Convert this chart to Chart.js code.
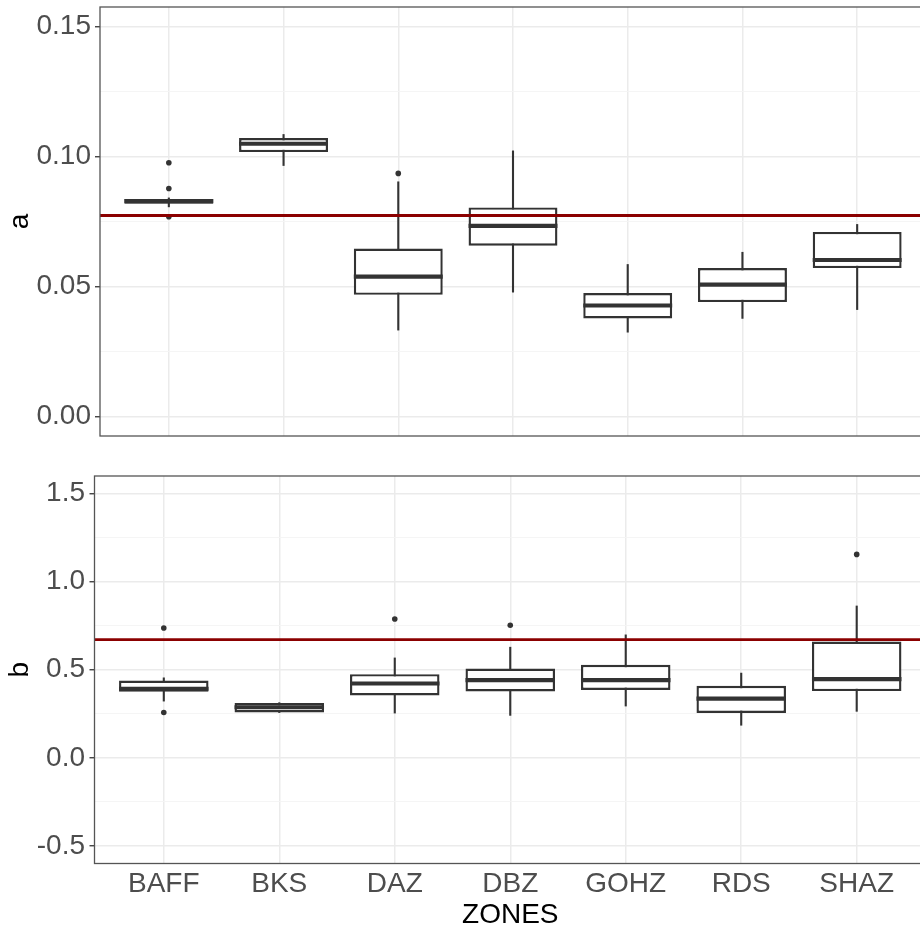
<!DOCTYPE html>
<html><head><meta charset="utf-8">
<script src="https://cdn.jsdelivr.net/npm/chart.js@4.4.1/dist/chart.umd.min.js"></script>
<style>
html,body{margin:0;padding:0;background:#fff;overflow:hidden;width:920px;height:930px;}
#wrapA{position:absolute;left:0;top:0;width:930px;height:450px;}
#wrapB{position:absolute;left:0;top:450px;width:930px;height:480px;}
canvas{display:block;}
</style></head><body>
<div id="wrapA"><canvas id="cA" width="930" height="450" style="width:930px;height:450px"></canvas></div>
<div id="wrapB"><canvas id="cB" width="930" height="480" style="width:930px;height:480px"></canvas></div>
<script>
// ---- data ----
const categories = ['BAFF','BKS','DAZ','DBZ','GOHZ','RDS','SHAZ'];

// panel a
const wminA = [0.0805, 0.0964, 0.0331, 0.0477, 0.0323, 0.0376, 0.0410];
const q1A   = [0.0818, 0.1017, 0.0468, 0.0657, 0.0377, 0.0440, 0.0571];
const medA  = [0.0828, 0.1049, 0.0538, 0.0733, 0.0427, 0.0507, 0.0602];
const q3A   = [0.0837, 0.1071, 0.0646, 0.0804, 0.0475, 0.0571, 0.0710];
const wmaxA = [0.0842, 0.1086, 0.0904, 0.1023, 0.0586, 0.0633, 0.0740];
const outA  = [[0.0976, 0.0877, 0.0768], [], [0.0935], [], [], [], []];
const refA  = 0.0773;
const yTicksA  = [0, 0.05, 0.10, 0.15];
const yLabelsA = ['0.00', '0.05', '0.10', '0.15'];
const yMinorA  = [0.025, 0.075, 0.125];

// panel b
const wminB = [0.320, 0.255, 0.252, 0.239, 0.292, 0.183, 0.262];
const q1B   = [0.375, 0.258, 0.354, 0.377, 0.385, 0.255, 0.379];
const medB  = [0.392, 0.287, 0.422, 0.441, 0.441, 0.336, 0.447];
const q3B   = [0.439, 0.311, 0.475, 0.507, 0.528, 0.409, 0.660];
const wmaxB = [0.456, 0.315, 0.569, 0.630, 0.700, 0.483, 0.864];
const outB  = [[0.737, 0.257], [], [0.788], [0.753], [], [], [1.155]];
const refB  = 0.671;
const yTicksB  = [-0.5, 0, 0.5, 1.0, 1.5];
const yLabelsB = ['-0.5', '0.0', '0.5', '1.0', '1.5'];
const yMinorB  = [-0.25, 0.25, 0.75, 1.25];

const FONT = "'Liberation Sans', Arial, Helvetica, sans-serif";

function makePanel(canvasId, s) {
  const boxes = categories.map((c, i) => ({x: i + 1, y: [s.q1[i], s.q3[i]]}));
  const outl = [];
  s.out.forEach((arr, i) => arr.forEach(v => outl.push({x: i + 1, y: v})));

  const parts = {
    id: 'parts_' + canvasId,
    beforeDatasetsDraw(chart) {
      const ctx = chart.ctx, y = chart.scales.y, meta = chart.getDatasetMeta(0);
      ctx.save();
      ctx.strokeStyle = '#333333'; ctx.lineWidth = 2.1;
      meta.data.forEach((el, i) => {
        ctx.beginPath();
        ctx.moveTo(el.x, y.getPixelForValue(s.wmin[i]));
        ctx.lineTo(el.x, y.getPixelForValue(s.wmax[i]));
        ctx.stroke();
      });
      ctx.restore();
    },
    afterDatasetsDraw(chart) {
      const ctx = chart.ctx, y = chart.scales.y, meta = chart.getDatasetMeta(0);
      const area = chart.chartArea;
      ctx.save();
      ctx.strokeStyle = '#333333'; ctx.lineWidth = 4.2;
      meta.data.forEach((el, i) => {
        const py = y.getPixelForValue(s.med[i]);
        ctx.beginPath();
        ctx.moveTo(el.x - el.width / 2, py);
        ctx.lineTo(el.x + el.width / 2, py);
        ctx.stroke();
      });
      const ry = y.getPixelForValue(s.ref);
      ctx.strokeStyle = '#8B0000'; ctx.lineWidth = 2.8;
      ctx.beginPath(); ctx.moveTo(area.left, ry); ctx.lineTo(area.right, ry); ctx.stroke();
      ctx.restore();
    },
    afterDraw(chart) {
      const ctx = chart.ctx, a = chart.chartArea;
      ctx.save();
      ctx.strokeStyle = '#555555'; ctx.lineWidth = 1.3;
      ctx.strokeRect(a.left, a.top, a.right - a.left, a.bottom - a.top);
      ctx.restore();
    }
  };

  return new Chart(document.getElementById(canvasId), {
    type: 'bar',
    data: {
      datasets: [
        {type: 'bar', data: boxes, backgroundColor: '#FFFFFF', borderColor: '#333333',
         borderWidth: 2.4, borderSkipped: false, barPercentage: 0.775, categoryPercentage: 1, order: 2},
        {type: 'scatter', data: outl, pointRadius: 2.8, pointBackgroundColor: '#333333',
         pointBorderWidth: 0, showLine: false, order: 1}
      ]
    },
    options: {
      responsive: false, animation: false, devicePixelRatio: 1,
      layout: {padding: {top: s.padTop, right: s.padRight, left: 0, bottom: 0}},
      plugins: {legend: {display: false}, tooltip: {enabled: false}},
      scales: {
        x: {
          type: 'linear', min: 0.4, max: 7.6, offset: false,
          afterBuildTicks: sc => { sc.ticks = categories.map((c, i) => ({value: i + 1})); },
          afterFit: sc => { sc.height = s.xHeight; sc.paddingLeft = 0; sc.paddingRight = 0; },
          grid: {color: '#EBEBEB', lineWidth: 1.5, drawTicks: false, offset: false},
          border: {display: false},
          ticks: {display: s.showX, autoSkip: false, maxRotation: 0,
                  callback: v => categories[Math.round(v) - 1] || '',
                  font: {family: FONT, size: 28}, color: '#4D4D4D', padding: s.xPad},
          title: {display: s.showX, text: 'ZONES', color: '#000000',
                  font: {family: FONT, size: 28, lineHeight: 1}, padding: {top: 0, bottom: 0.5}}
        },
        y: {
          type: 'linear', min: s.min, max: s.max,
          afterBuildTicks: sc => {
            const t = s.major.map((v, i) => ({value: v, isMajor: true, lab: s.labels[i]}))
              .concat(s.minor.map(v => ({value: v, isMajor: false, lab: ''})));
            t.sort((a, b) => a.value - b.value);
            sc.ticks = t;
          },
          afterFit: sc => { sc.width = s.yWidth; sc.paddingTop = 0; sc.paddingBottom = 0; },
          grid: {
            color: c => (c.tick && c.tick.isMajor) ? '#EBEBEB' : '#F4F4F4',
            lineWidth: c => (c.tick && c.tick.isMajor) ? 1.5 : 0.9,
            tickColor: c => (c.tick && c.tick.isMajor) ? '#333333' : 'rgba(0,0,0,0)',
            tickWidth: 1.3, tickLength: 5, drawTicks: true
          },
          border: {display: false},
          ticks: {autoSkip: false, callback: (v, i, ticks) => ticks[i].lab,
                  font: {family: FONT, size: 28}, color: '#4D4D4D', padding: s.yPad},
          title: {display: true, text: s.yTitle, color: '#000000',
                  font: {family: FONT, size: 28, lineHeight: 1}, padding: {top: 6, bottom: 0}}
        }
      }
    },
    plugins: [parts]
  });
}

makePanel('cA', {
  q1: q1A, q3: q3A, med: medA, wmin: wminA, wmax: wmaxA, out: outA, ref: refA,
  major: yTicksA, labels: yLabelsA, minor: yMinorA, min: -0.0075, max: 0.1575,
  yTitle: 'a', showX: false, padTop: 7, padRight: 2, xHeight: 14, yWidth: 100, yPad: 4, xPad: 3
});
makePanel('cB', {
  q1: q1B, q3: q3B, med: medB, wmin: wminB, wmax: wmaxB, out: outB, ref: refB,
  major: yTicksB, labels: yLabelsB, minor: yMinorB, min: -0.6, max: 1.6,
  yTitle: 'b', showX: true, padTop: 26, padRight: 0.5, xHeight: 66.5, yWidth: 94.5, yPad: 4.5, xPad: 4
});
</script>
</body></html>
